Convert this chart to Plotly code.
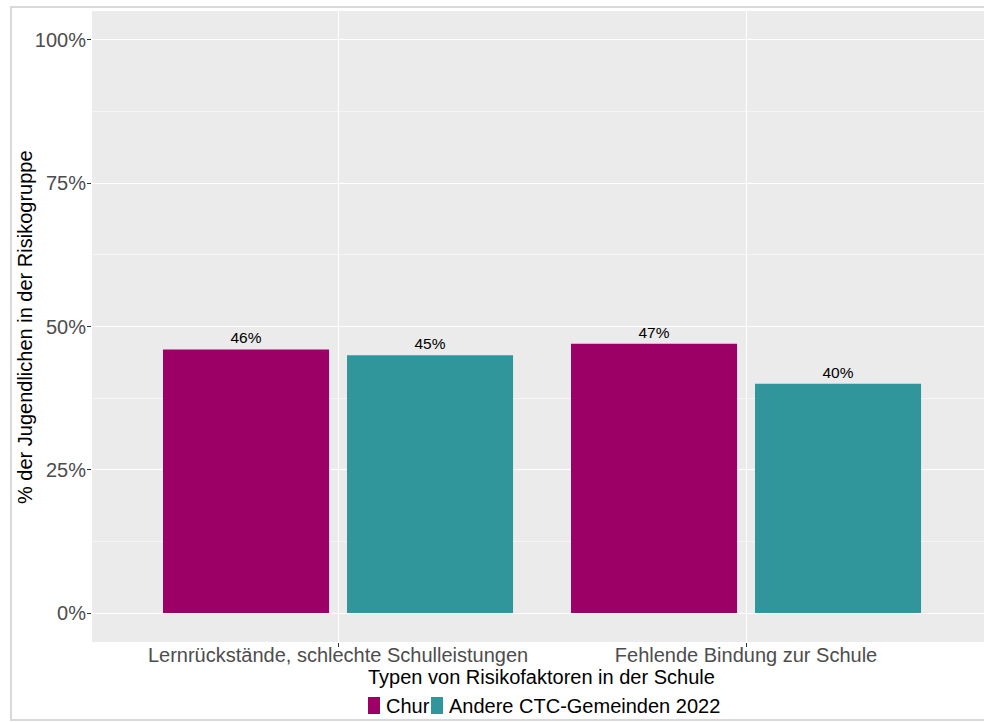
import plotly.graph_objects as go

# Categories and series values (percent of youths in the risk group)
categories = ["Lernrückstände, schlechte Schulleistungen", "Fehlende Bindung zur Schule"]
series_names = ["Chur", "Andere CTC-Gemeinden 2022"]
chur_values = [46, 47]
ctc_values = [45, 40]
y_tick_values = [0, 25, 50, 75, 100]
y_tick_labels = ["0%", "25%", "50%", "75%", "100%"]

colors = ["#9C0066", "#31969B"]
FONT = "Liberation Sans, Arial, sans-serif"

# dodged bars: width and left-edge offset of each series within a category
bar_width = 0.407
bar_offsets = [-0.429, 0.022]

fig = go.Figure()
for name, vals, col, off in zip(series_names, [chur_values, ctc_values], colors, bar_offsets):
    fig.add_trace(go.Bar(
        x=categories, y=vals, name=name,
        width=bar_width, offset=off,
        marker=dict(color=col, line=dict(width=0)),
        text=[f"{v}%" for v in vals], textposition="outside",
        textfont=dict(size=15.5, color="black", family=FONT),
        cliponaxis=False, showlegend=False,
    ))

# Plot area geometry (pixels)
L, R, T, B = 92, 984, 11, 642
W, H = R - L, B - T

def px(x):
    return (x - L) / W

def py(y):
    return (B - y) / H

# outer frame
fig.add_shape(type="rect", xref="paper", yref="paper",
              x0=px(11), x1=px(1000), y0=py(720), y1=py(7),
              line=dict(color="#D9D9D9", width=2), fillcolor="rgba(0,0,0,0)", layer="below")

# axis titles
fig.add_annotation(xref="paper", yref="paper", x=px(541), y=py(677),
                   text="Typen von Risikofaktoren in der Schule", showarrow=False,
                   xanchor="center", yanchor="middle",
                   font=dict(size=20, color="black", family=FONT))
fig.add_annotation(xref="paper", yref="paper", x=px(25), y=py(327),
                   text="% der Jugendlichen in der Risikogruppe", showarrow=False,
                   textangle=-90, xanchor="center", yanchor="middle",
                   font=dict(size=20, color="black", family=FONT))

# legend drawn as keys + labels
legend_items = [(368, 380, 384, series_names[0], colors[0]),
                (431, 443, 447, series_names[1], colors[1])]
for k0, k1, tx, label, col in legend_items:
    fig.add_shape(type="rect", xref="paper", yref="paper",
                  x0=px(k0), x1=px(k1), y0=py(714), y1=py(697),
                  line=dict(width=0), fillcolor=col)
    fig.add_annotation(xref="paper", yref="paper", x=px(tx), y=py(705.5),
                       text=label, showarrow=False, xanchor="left", yanchor="middle",
                       font=dict(size=20, color="black", family=FONT))

fig.update_layout(
    width=984, height=722,
    margin=dict(l=L, r=0, t=T, b=722 - B),
    paper_bgcolor="white", plot_bgcolor="#EBEBEB",
    barmode="overlay",
    font=dict(family=FONT),
    xaxis=dict(
        range=[-0.603, -0.603 + W / 408],
        showgrid=True, gridcolor="white", gridwidth=1,
        ticks="outside", ticklen=4, tickcolor="#333333",
        ticklabelstandoff=-9,
        tickfont=dict(size=20, color="#4D4D4D", family=FONT),
        zeroline=False, showline=False,
    ),
    yaxis=dict(
        range=[-5.06, 105.06],
        tickvals=y_tick_values, ticktext=y_tick_labels,
        showgrid=True, gridcolor="white", gridwidth=1.1,
        minor=dict(dtick=12.5, tick0=12.5, showgrid=True, gridcolor="#F5F5F5", gridwidth=0.6),
        ticks="outside", ticklen=4, tickcolor="#333333",
        ticklabelstandoff=-3,
        tickfont=dict(size=20, color="#4D4D4D", family=FONT),
        zeroline=False, showline=False,
    ),
)

fig.write_html("out.html")
